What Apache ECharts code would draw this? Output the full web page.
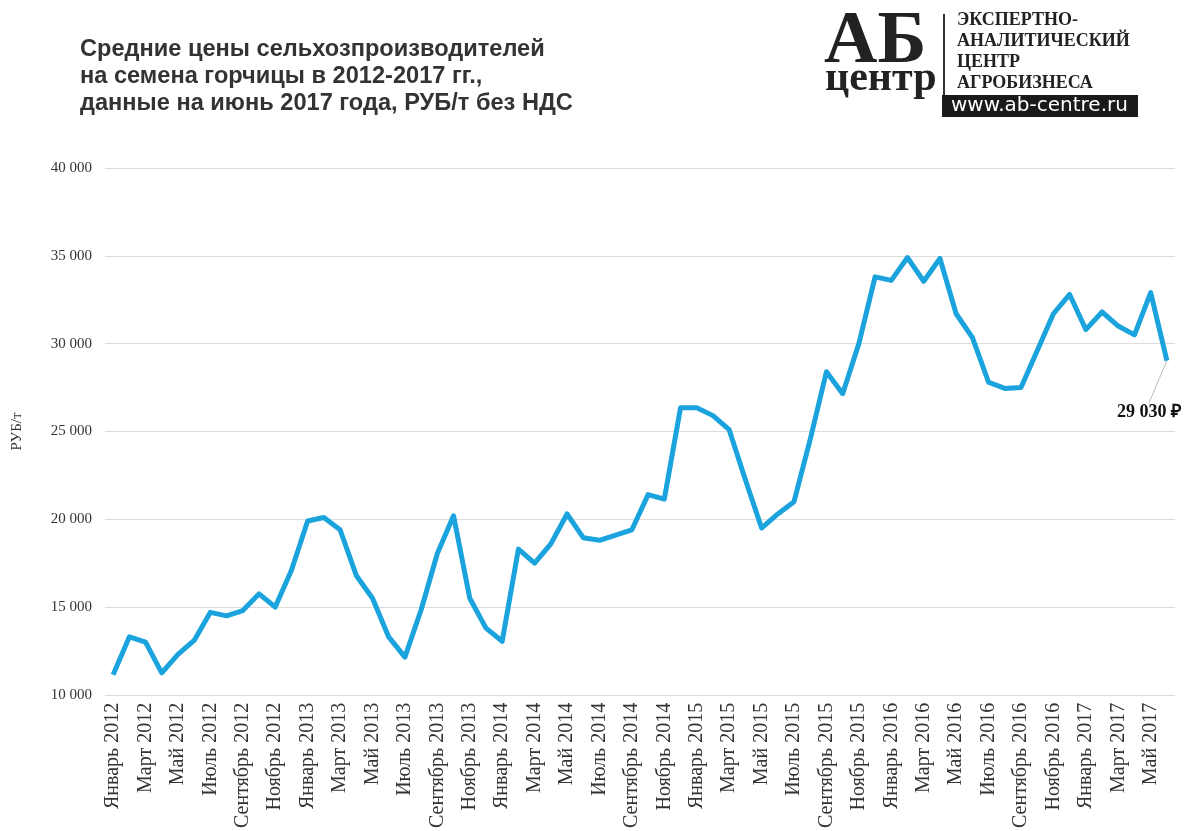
<!DOCTYPE html>
<html>
<head>
<meta charset="utf-8">
<script src="https://cdn.jsdelivr.net/npm/echarts@6/dist/echarts.min.js"></script>
<style>
  html, body { margin: 0; padding: 0; background: #fff; }
  #chart { width: 1188px; height: 831px; }
</style>
</head>
<body>
<div id="chart"></div>
<script>
// месяцы январь 2012 - июнь 2017
var monthNames = ['Январь', 'Февраль', 'Март', 'Апрель', 'Май', 'Июнь', 'Июль', 'Август', 'Сентябрь', 'Октябрь', 'Ноябрь', 'Декабрь'];
var years = [2012, 2013, 2014, 2015, 2016, 2017];
var months = [];
years.forEach(function (y) {
    monthNames.forEach(function (m, i) {
        if (y < 2017 || i < 6) months.push(m + ' ' + y);
    });
});

// средние цены, руб/т
var prices = [
    11150, 13300, 13000, 11250, 12300, 13100, 14700, 14500, 14800, 15750, 15000, 17100,
    19900, 20100, 19400, 16800, 15500, 13300, 12150, 14850, 18050, 20200, 15500, 13800,
    13050, 18300, 17500, 18600, 20300, 18950, 18800, 19100, 19400, 21400, 21150, 26350,
    26350, 25900, 25100, 22250, 19500, 20300, 21000, 24550, 28400, 27150, 30000, 33800,
    33600, 34900, 33550, 34850, 31700, 30350, 27800, 27450, 27500, 29600, 31700, 32800,
    30800, 31800, 31000, 30500, 32900, 29030
];

var lastLabel = '29 030 ₽';

var seriesData = prices.map(function (v, i) {
    if (i === prices.length - 1) {
        return {
            value: v,
            symbol: 'circle',
            symbolSize: 1,
            label: {
                show: true,
                position: 'bottom',
                formatter: lastLabel,
                fontFamily: 'Liberation Serif',
                fontWeight: 'bold',
                fontSize: 18,
                color: '#111'
            },
            labelLine: { show: true, lineStyle: { color: '#bbb', width: 1 } }
        };
    }
    return v;
});

var chart = echarts.init(document.getElementById('chart'));
chart.setOption({
    animation: false,
    title: {
        text: 'Средние цены сельхозпроизводителей\nна семена горчицы в 2012-2017 гг.,\nданные на июнь 2017 года, РУБ/т без НДС',
        left: 75,
        top: 31,
        textStyle: {
            fontFamily: 'Liberation Sans',
            fontSize: 23.6,
            fontWeight: 'bold',
            color: '#333',
            lineHeight: 27
        }
    },
    grid: {
        left: 105,
        right: 13,
        top: 168,
        bottom: 136
    },
    xAxis: {
        type: 'category',
        data: months,
        boundaryGap: true,
        axisLine: { show: false },
        axisTick: { show: false },
        axisLabel: {
            interval: 1,
            rotate: 90,
            margin: 8,
            fontFamily: 'Liberation Serif',
            fontSize: 20,
            color: '#333'
        }
    },
    yAxis: {
        type: 'value',
        min: 10000,
        max: 40000,
        interval: 5000,
        name: 'РУБ/т',
        nameLocation: 'middle',
        nameGap: 80,
        nameTextStyle: { fontFamily: 'Liberation Serif', fontSize: 15, color: '#333' },
        axisLabel: {
            margin: 13,
            fontFamily: 'Liberation Serif',
            fontSize: 15,
            color: '#333',
            formatter: function (v) {
                return String(v).replace(/\B(?=(\d{3})+(?!\d))/g, ' ');
            }
        },
        splitLine: { lineStyle: { color: '#dcdcdc', width: 1 } }
    },
    series: [{
        type: 'line',
        data: seriesData,
        symbol: 'none',
        showSymbol: true,
        lineStyle: { color: '#1aa3dd', width: 5, join: 'round' },
        itemStyle: { color: '#1aa3dd' },
        labelLayout: { dx: -18, dy: 37 }
    }],
    graphic: [
        // логотип
        { type: 'text', left: 824, top: 6, style: { text: 'АБ', font: 'bold 74px "Liberation Serif"', fill: '#222' } },
        { type: 'text', left: 825, top: 58, style: { text: 'центр', font: 'bold 42px "Liberation Serif"', fill: '#222' } },
        { type: 'rect', shape: { x: 943, y: 14, width: 2, height: 84 }, style: { fill: '#333' } },
        { type: 'text', left: 957, top: 10, style: { text: 'ЭКСПЕРТНО-\nАНАЛИТИЧЕСКИЙ\nЦЕНТР\nАГРОБИЗНЕСА', font: 'bold 18px "Liberation Serif"', lineHeight: 21, fill: '#222' } },
        { type: 'rect', shape: { x: 942, y: 95, width: 196, height: 22 }, style: { fill: '#1a1a1a' } },
        { type: 'text', left: 951, top: 96, style: { text: 'www.ab-centre.ru', font: '20px "DejaVu Sans"', fill: '#fff' } }
    ]
});
</script>
</body>
</html>
